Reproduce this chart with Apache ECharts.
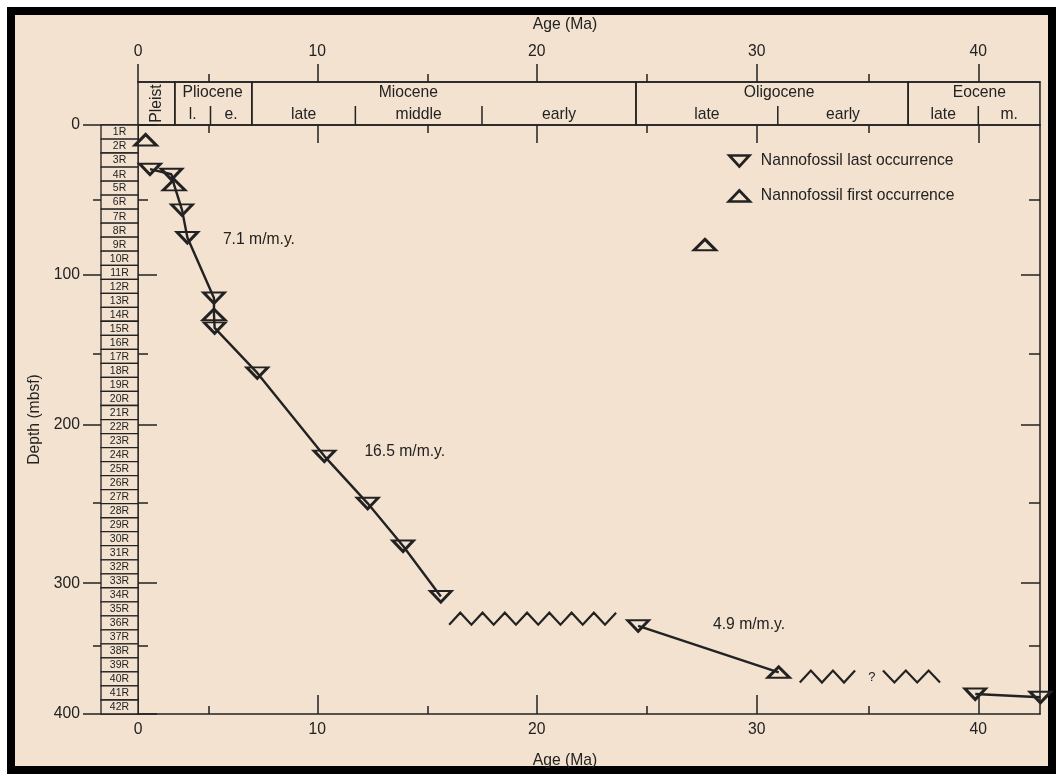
<!DOCTYPE html>
<html>
<head>
<meta charset="utf-8">
<title>Age-depth plot, nannofossil datums</title>
<script src="https://cdn.jsdelivr.net/npm/echarts@6/dist/echarts.min.js"></script>
<style>
  html, body { margin: 0; padding: 0; background: #ffffff; }
  #chart { width: 1056px; height: 774px; }
</style>
</head>
<body>
<div id="chart"></div>
<script>
// ---------------------------------------------------------------------------
// Data
// ---------------------------------------------------------------------------

// Axis ticks
const ageMajorTicks = [0, 10, 20, 30, 40];
const ageMinorTicks = [5, 15, 25, 35];
const depthMajorTicks = [0, 100, 200, 300, 400];
const depthMinorTicks = [50, 150, 250, 350];

// Nannofossil datums: kind (LO = last occurrence, FO = first occurrence),
// age (Ma), depth (mbsf) and the sedimentation-rate line each one sits on (0 = none)
const datumKind  = ['FO', 'LO', 'LO', 'FO', 'LO', 'LO', 'LO', 'FO', 'LO', 'LO', 'LO', 'LO', 'LO', 'LO', 'LO', 'FO', 'LO', 'LO', 'FO'];
const datumAge   = [0.54, 0.85, 2.37, 2.56, 3.12, 3.50, 5.25, 5.25, 5.28, 7.24, 10.32, 12.29, 13.90, 15.62, 24.60, 30.98, 39.86, 42.84, 27.64];
const datumDepth = [10.0, 29.5, 32.9, 40.0, 56.7, 75.1, 114.7, 125.3, 133.7, 163.6, 220.3, 250.6, 277.0, 310.6, 333.9, 369.3, 385.3, 387.7, 80.0];
const datumTrend = [0, 1, 1, 1, 1, 1, 1, 1, 1, 1, 1, 1, 1, 1, 2, 2, 3, 3, 0];

// Sedimentation-rate annotations and the query on the lower hiatus
const noteText  = ['7.1 m/m.y.', '16.5 m/m.y.', '4.9 m/m.y.', '?'];
const noteAge   = [5.66, 12.14, 28.01, 34.97];
const noteDepth = [76.7, 217.5, 333.3, 372.8];

// Hiatuses (drawn as wavy lines)
const hiatusFrom  = [16.0, 31.92, 35.64];
const hiatusTo    = [23.6, 34.38, 38.25];
const hiatusDepth = [328.2, 372.4, 372.4];

// Time scale
const epochName = ['Pleist', 'Pliocene', 'Miocene', 'Oligocene', 'Eocene'];
const epochFrom = [0, 2.61, 6.99, 24.5, 36.79];
const epochTo   = [2.61, 6.99, 24.5, 36.79, 42.82];
const subName = ['l.', 'e.', 'late', 'middle', 'early', 'late', 'early', 'late', 'm.'];
const subFrom = [2.61, 5.09, 6.99, 11.73, 17.5, 24.5, 30.94, 36.79, 40.0];
const subTo   = [5.09, 6.99, 11.73, 17.5, 24.5, 30.94, 36.79, 40.0, 42.82];

// Cored intervals (1R-42R): boundaries in mbsf
const coreName = ['1R', '2R', '3R', '4R', '5R', '6R', '7R', '8R', '9R', '10R',
  '11R', '12R', '13R', '14R', '15R', '16R', '17R', '18R', '19R', '20R',
  '21R', '22R', '23R', '24R', '25R', '26R', '27R', '28R', '29R', '30R',
  '31R', '32R', '33R', '34R', '35R', '36R', '37R', '38R', '39R', '40R',
  '41R', '42R'];
const coreBoundary = [0, 9.4, 18.7, 28.1, 37.5, 46.8, 56.2, 65.6, 74.9, 84.3,
  93.7, 102.9, 111.8, 120.7, 129.5, 138.4, 147.3, 156.9, 166.8, 176.7,
  186.6, 196.5, 205.8, 214.8, 223.8, 232.8, 241.8, 250.8, 259.5, 268.1,
  276.8, 285.5, 294.2, 303.6, 314.8, 325.9, 337.1, 348.2, 358.7, 369.0,
  379.3, 389.7, 400];

// ---------------------------------------------------------------------------
// Layout and style
// ---------------------------------------------------------------------------
const BG = '#f3e2cf';
const INK = '#222222';
const FONT = '"Liberation Sans", Arial, Helvetica, sans-serif';
const FS = 15.7;           // main text size
const BAR_H = 43;          // height of the time-scale bar above the plot
const SUB_TICK = 19;       // height of the sub-epoch dividers
const CORE_W = 37;         // width of the core column
const HALF_WAVE = 11;      // wavy hiatus line: half wavelength (px)
const WAVE_AMP = 6;        // and half amplitude (px)
const hiatusStartsHigh = [false, false, true];
const epochLabelAt = [1.34, 5.19, 14.14, 31.0, 40.05];
const DOWN_TRI = 'path://M0,0L20,0L10,11Z';

// The drafted age and depth scales are slightly uneven: each knot ties a
// labelled value to its fraction of the way along the axis.
const ageScaleKnots = [[0, 0], [5, 0.0782], [10, 0.1988], [15, 0.3207], [20, 0.4420],
  [25, 0.5643], [30, 0.6859], [35, 0.8104], [40, 0.9316]];
const depthScaleKnots = [[0, 0], [50, 0.1271], [100, 0.2542], [150, 0.3881], [200, 0.5085],
  [250, 0.6407], [300, 0.7780], [350, 0.8847], [400, 1]];

function makeScale(knots) {
  return function (v) {
    let i = 0;
    while (i < knots.length - 2 && v > knots[i + 1][0]) i++;
    const [v0, p0] = knots[i];
    const [v1, p1] = knots[i + 1];
    return p0 + (v - v0) * (p1 - p0) / (v1 - v0);
  };
}
const ageToAxis = makeScale(ageScaleKnots);
const depthToAxis = makeScale(depthScaleKnots);

function labelFor(ticks, toAxis) {
  return function (v) {
    const t = ticks.find(t => Math.abs(toAxis(t) - v) < 1e-6);
    return t === undefined ? '' : String(t);
  };
}

const textBase = { color: INK, fontFamily: FONT, fontSize: FS };

function ageAxis(o) {
  const values = o.ticks.map(ageToAxis);
  const axis = {
    type: 'value', gridIndex: 0, position: o.position, offset: o.offset || 0,
    min: 0, max: 1,
    axisLine: { show: !!o.line, onZero: false, lineStyle: { color: INK, width: 1.5 } },
    axisTick: { show: true, inside: o.inside, length: o.length, customValues: values,
      lineStyle: { color: INK, width: 1.5 } },
    axisLabel: o.labels
      ? Object.assign({ show: true, customValues: values, margin: o.labels.margin,
          formatter: labelFor(o.ticks, ageToAxis) }, textBase)
      : { show: false },
    splitLine: { show: false }
  };
  if (o.name) {
    axis.name = o.name;
    axis.nameLocation = 'middle';
    axis.nameGap = o.nameGap;
    axis.nameTextStyle = Object.assign({ padding: [0, 48, 0, 0] }, textBase);
  }
  return axis;
}

function depthAxis(o) {
  const values = o.ticks.map(depthToAxis);
  const axis = {
    type: 'value', gridIndex: 0, position: o.position, inverse: true,
    min: 0, max: 1,
    axisLine: { show: !!o.line, onZero: false, lineStyle: { color: INK, width: 1.5 } },
    axisTick: { show: true, inside: o.inside, length: o.length, customValues: values,
      lineStyle: { color: INK, width: 1.5 } },
    axisLabel: o.labels
      ? Object.assign({ show: true, customValues: values, margin: o.labels.margin,
          formatter: labelFor(o.ticks, depthToAxis) }, textBase)
      : { show: false },
    splitLine: { show: false }
  };
  if (o.name) {
    axis.name = o.name;
    axis.nameLocation = 'middle';
    axis.nameGap = o.nameGap;
    axis.nameTextStyle = Object.assign({}, textBase);
  }
  return axis;
}

// ---------------------------------------------------------------------------
// Custom renderers
// ---------------------------------------------------------------------------
function txt(x, y, text, size, extra) {
  return Object.assign({
    type: 'text', x: x, y: y,
    style: { text: text, fill: INK, font: (size || FS) + 'px ' + FONT, align: 'center', verticalAlign: 'middle' }
  }, extra || {});
}

function renderEpoch(params, api) {
  const i = params.dataIndex;
  const x0 = api.coord([ageToAxis(epochFrom[i]), 0])[0];
  const x1 = api.coord([ageToAxis(epochTo[i]), 0])[0];
  const yb = api.coord([0, 0])[1];
  const lx = api.coord([ageToAxis(epochLabelAt[i]), 0])[0];
  const children = [{
    type: 'rect', shape: { x: x0, y: yb - BAR_H, width: x1 - x0, height: BAR_H },
    style: { fill: 'none', stroke: INK, lineWidth: 1.5 }
  }];
  if (i === 0) {
    children.push(txt(lx, yb - BAR_H / 2, epochName[i], FS, { rotation: Math.PI / 2 }));
  } else {
    children.push(txt(lx, yb - 32, epochName[i]));
  }
  return { type: 'group', children: children };
}

function renderSub(params, api) {
  const i = params.dataIndex;
  const x0 = api.coord([ageToAxis(subFrom[i]), 0])[0];
  const x1 = api.coord([ageToAxis(subTo[i]), 0])[0];
  const yb = api.coord([0, 0])[1];
  const children = [txt((x0 + x1) / 2, yb - 10.5, subName[i])];
  if (epochFrom.indexOf(subFrom[i]) < 0) {
    children.push({ type: 'line', shape: { x1: x0, y1: yb - SUB_TICK, x2: x0, y2: yb },
      style: { stroke: INK, lineWidth: 1.5 } });
  }
  return { type: 'group', children: children };
}

function renderCore(params, api) {
  const i = params.dataIndex;
  const y0 = api.coord([0, depthToAxis(coreBoundary[i])])[1];
  const y1 = api.coord([0, depthToAxis(coreBoundary[i + 1])])[1];
  const xr = api.coord([0, 0])[0];
  const xl = xr - CORE_W;
  return {
    type: 'group', children: [
      { type: 'rect', shape: { x: xl, y: y0, width: CORE_W, height: y1 - y0 },
        style: { fill: BG, stroke: INK, lineWidth: 1.3 } },
      txt((xl + xr) / 2, (y0 + y1) / 2 + 0.5, coreName[i], 10.5)
    ]
  };
}

function renderHiatus(params, api) {
  const i = params.dataIndex;
  const x0 = api.coord([ageToAxis(hiatusFrom[i]), 0])[0];
  const x1 = api.coord([ageToAxis(hiatusTo[i]), 0])[0];
  const yc = api.coord([0, depthToAxis(hiatusDepth[i])])[1];
  const n = Math.max(1, Math.round((x1 - x0) / HALF_WAVE));
  const pts = [];
  for (let k = 0; k <= n; k++) {
    const high = (k % 2 === 0) === hiatusStartsHigh[i];
    pts.push([x0 + (x1 - x0) * k / n, yc + (high ? -WAVE_AMP : WAVE_AMP)]);
  }
  return { type: 'polyline', shape: { points: pts },
    style: { stroke: INK, lineWidth: 2.2, fill: null, lineJoin: 'miter' } };
}

function renderNote(params, api) {
  const i = params.dataIndex;
  const p = api.coord([ageToAxis(noteAge[i]), depthToAxis(noteDepth[i])]);
  const size = noteText[i] === '?' ? 13 : FS;
  return { type: 'text', x: p[0], y: p[1],
    style: { text: noteText[i], fill: INK, font: size + 'px ' + FONT, align: 'left', verticalAlign: 'middle' } };
}

// ---------------------------------------------------------------------------
// Series data
// ---------------------------------------------------------------------------
const datums = datumAge.map((age, i) => ({
  kind: datumKind[i], trend: datumTrend[i],
  point: [ageToAxis(age), depthToAxis(datumDepth[i])]
}));
const lastOcc = datums.filter(d => d.kind === 'LO').map(d => d.point);
const firstOcc = datums.filter(d => d.kind === 'FO').map(d => d.point);
const trendIds = [1, 2, 3];
const trendSeries = trendIds.map(id => ({
  type: 'line', name: 'rate ' + id, silent: true, clip: false, z: 4,
  showSymbol: false, symbol: 'none',
  lineStyle: { color: INK, width: 2.4, opacity: 1 },
  data: datums.filter(d => d.trend === id).map(d => d.point)
}));

const markerStyle = { color: 'transparent', borderColor: INK, borderWidth: 2.7, opacity: 1 };

const option = {
  animation: false,
  backgroundColor: '#ffffff',
  graphic: [{
    type: 'rect', z: -10, silent: true,
    shape: { x: 11, y: 11, width: 1041, height: 759 },
    style: { fill: BG, stroke: '#000000', lineWidth: 8 }
  }],
  grid: { left: 138, right: 16, top: 125, bottom: 59, containLabel: false },
  xAxis: [
    ageAxis({ position: 'bottom', ticks: ageMajorTicks, inside: true, length: 19, line: true,
      labels: { margin: 8 }, name: 'Age (Ma)', nameGap: 39 }),
    ageAxis({ position: 'bottom', ticks: ageMinorTicks, inside: true, length: 8 }),
    ageAxis({ position: 'top', ticks: ageMajorTicks, inside: true, length: 18, line: true }),
    ageAxis({ position: 'top', ticks: ageMinorTicks, inside: true, length: 8 }),
    ageAxis({ position: 'top', offset: BAR_H, ticks: ageMajorTicks, inside: false, length: 18, line: true,
      labels: { margin: 22 }, name: 'Age (Ma)', nameGap: 49 }),
    ageAxis({ position: 'top', offset: BAR_H, ticks: ageMinorTicks, inside: false, length: 8 })
  ],
  yAxis: [
    depthAxis({ position: 'left', ticks: depthMajorTicks, inside: false, length: 55, line: true,
      labels: { margin: 58 }, name: 'Depth (mbsf)', nameGap: 94 }),
    depthAxis({ position: 'left', ticks: depthMinorTicks, inside: false, length: 45 }),
    depthAxis({ position: 'left', ticks: depthMajorTicks, inside: true, length: 19 }),
    depthAxis({ position: 'left', ticks: depthMinorTicks, inside: true, length: 10 }),
    depthAxis({ position: 'right', ticks: depthMajorTicks.slice(1, -1), inside: true, length: 19, line: true }),
    depthAxis({ position: 'right', ticks: depthMinorTicks, inside: true, length: 11 })
  ],
  legend: {
    orient: 'vertical', left: 722.5, top: 148, padding: 5,
    itemWidth: 21, itemHeight: 11, itemGap: 19,
    selectedMode: false,
    textStyle: Object.assign({ padding: [0, 0, 0, 6] }, textBase),
    itemStyle: markerStyle,
    data: [
      { name: 'Nannofossil last occurrence', icon: DOWN_TRI },
      { name: 'Nannofossil first occurrence', icon: 'triangle' }
    ]
  },
  series: [
    { type: 'custom', name: 'epochs', silent: true, z: 3, clip: false,
      renderItem: renderEpoch, data: epochName.map((n, i) => [i, 0]) },
    { type: 'custom', name: 'sub-epochs', silent: true, z: 3, clip: false,
      renderItem: renderSub, data: subName.map((n, i) => [i, 0]) },
    { type: 'custom', name: 'cores', silent: true, z: 3, clip: false,
      renderItem: renderCore, data: coreName.map((n, i) => [i, 0]) },
    { type: 'custom', name: 'hiatus', silent: true, z: 4, clip: false,
      renderItem: renderHiatus, data: hiatusFrom.map((n, i) => [i, 0]) },
    { type: 'custom', name: 'notes', silent: true, z: 4, clip: false,
      renderItem: renderNote, data: noteText.map((n, i) => [i, 0]) },
    ...trendSeries,
    { type: 'scatter', name: 'Nannofossil last occurrence', symbol: DOWN_TRI, symbolSize: [21, 11],
      itemStyle: markerStyle, clip: false, z: 5, data: lastOcc },
    { type: 'scatter', name: 'Nannofossil first occurrence', symbol: 'triangle', symbolSize: [22, 11],
      itemStyle: markerStyle, clip: false, z: 5, data: firstOcc }
  ]
};

const chart = echarts.init(document.getElementById('chart'), null, { renderer: 'canvas' });
chart.setOption(option);
</script>
</body>
</html>
